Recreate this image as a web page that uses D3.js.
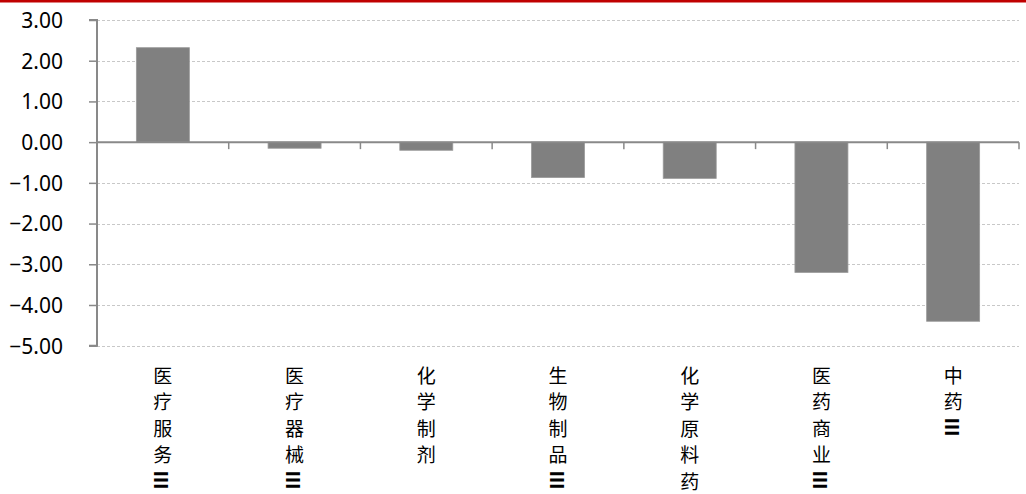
<!DOCTYPE html>
<html lang="zh">
<head>
  <meta charset="UTF-8">
  <title>行业涨跌幅</title>
  <script src="https://d3js.org/d3.v7.min.js"></script>
  <style>
    body { margin: 0; background: #fff; }
    svg { display: block; }
    .tick-label { font-family: "Noto Sans", "Liberation Sans", sans-serif; font-size: 21px; fill: #000; }
    .cat-label { font-family: "Noto Sans CJK SC", sans-serif; font-size: 19px; fill: #000; }
  </style>
</head>
<body>
  <svg id="chart" width="1026" height="494"></svg>
  <script>
    const categories = ["医疗服务Ⅲ", "医疗器械Ⅲ", "化学制剂", "生物制品Ⅲ", "化学原料药", "医药商业Ⅲ", "中药Ⅲ"];
    const values = [2.32, -0.15, -0.20, -0.87, -0.89, -3.20, -4.40];
    const yTicks = [3, 2, 1, 0, -1, -2, -3, -4, -5];

    const svg = d3.select("#chart");
    const W = +svg.attr("width");
    const plotLeft = 97, plotRight = 1019, plotTop = 20, plotBottom = 345.7;

    // red rule on top
    svg.append("rect").attr("x", 0).attr("y", 0).attr("width", W).attr("height", 2.5).attr("fill", "#c00000");

    const xb = d3.scaleBand().domain(categories).range([plotLeft, plotRight]);
    const y = d3.scaleLinear().domain([-5, 3]).range([plotBottom, plotTop]);

    // gridlines
    svg.append("g").selectAll("line")
      .data(yTicks.filter(d => d !== 0))
      .join("line")
      .attr("x1", plotLeft).attr("x2", plotRight)
      .attr("y1", d => Math.round(y(d)) + 0.5).attr("y2", d => Math.round(y(d)) + 0.5)
      .attr("stroke", "#c8c8c8").attr("stroke-width", 1).attr("stroke-dasharray", "3,2");

    // bars
    svg.append("g").selectAll("rect")
      .data(categories)
      .join("rect")
      .attr("x", d => xb(d) + (xb.bandwidth() - 53) / 2)
      .attr("width", 53)
      .attr("y", (d, i) => y(Math.max(0, values[i])))
      .attr("height", (d, i) => Math.abs(y(values[i]) - y(0)))
      .attr("fill", "#808080")
      .attr("stroke", "#9a9a9a").attr("stroke-width", 0.8);

    // y axis
    const yAxis = svg.append("g").attr("transform", `translate(${plotLeft},0)`)
      .call(d3.axisLeft(y).tickValues(yTicks).tickSize(8).tickPadding(0).tickFormat(d3.format(".2f")));
    yAxis.attr("font-size", null).attr("font-family", null);
    yAxis.select(".domain").attr("stroke", "#898989").attr("stroke-width", 2)
      .attr("d", `M-8,${y(3)}H0V${y(-5)}H-8`);
    yAxis.selectAll(".tick line").attr("stroke", "#898989").attr("stroke-width", 1.5);
    yAxis.selectAll(".tick text").attr("class", "tick-label").attr("x", -34).attr("dy", "0.35em");

    // zero line with category ticks
    const zeroAxis = svg.append("g").attr("transform", `translate(0,${y(0)})`);
    zeroAxis.append("line").attr("x1", plotLeft).attr("x2", plotRight).attr("stroke", "#898989").attr("stroke-width", 2);
    zeroAxis.selectAll(".ctick")
      .data(categories.slice(1).map(c => xb(c)).concat([plotRight]))
      .join("line")
      .attr("x1", d => d).attr("x2", d => d).attr("y1", 0).attr("y2", 7)
      .attr("stroke", "#898989").attr("stroke-width", 1.5);

    // vertical category labels, one glyph per line
    const labels = svg.append("g");
    categories.forEach(c => {
      const cx = xb(c) + xb.bandwidth() / 2;
      Array.from(c).forEach((ch, j) => {
        const cy = 374 + j * 26.5;
        const t = labels.append("text").attr("class", "cat-label")
          .attr("text-anchor", "middle").attr("dominant-baseline", "central")
          .text(ch);
        if (ch === "Ⅲ") {
          t.attr("transform", `translate(${cx},${cy}) rotate(90)`).attr("font-weight", "bold");
        } else {
          t.attr("x", cx).attr("y", cy);
        }
      });
    });
  </script>
</body>
</html>
